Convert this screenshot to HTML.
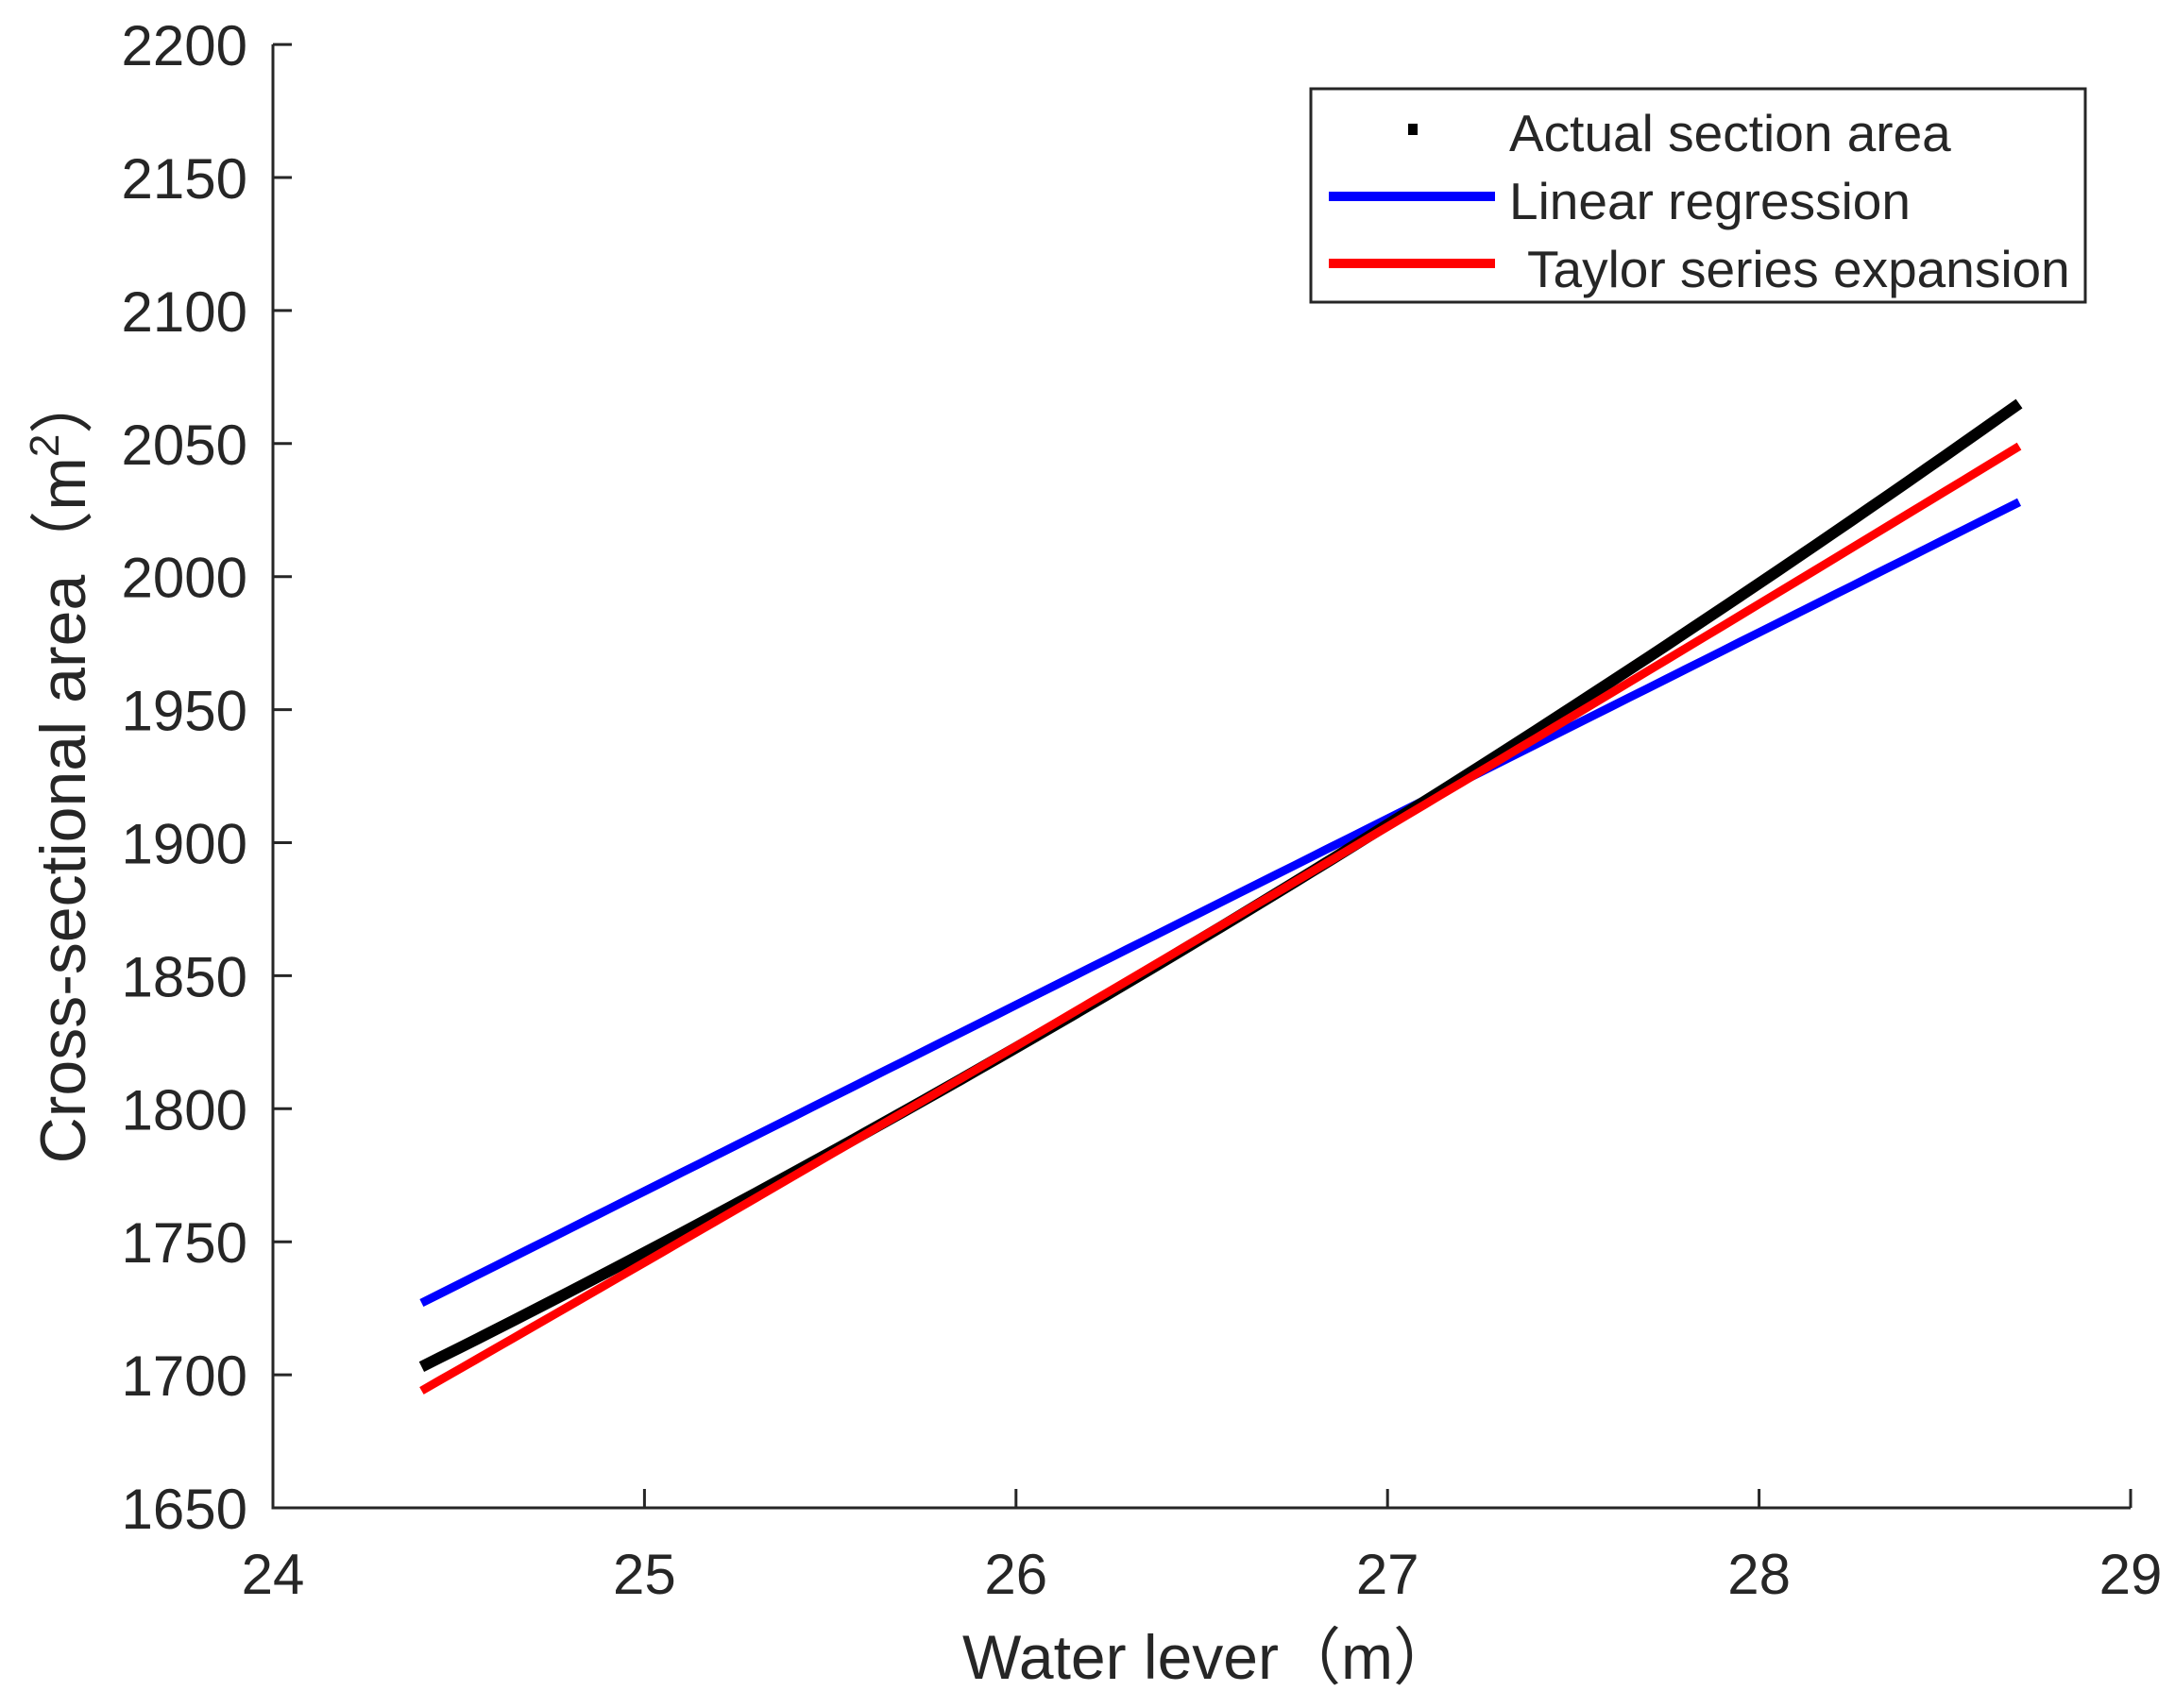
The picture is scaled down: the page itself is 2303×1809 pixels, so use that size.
<!DOCTYPE html>
<html><head><meta charset="utf-8"><style>
body{margin:0;background:#fff}
svg text{font-family:"Liberation Sans","Noto Sans CJK SC",sans-serif;fill:#262626}
</style></head><body>
<svg id="s" width="2303" height="1804" xmlns="http://www.w3.org/2000/svg">
<rect width="2303" height="1804" fill="#fff"/>
<g id="plot"></g>
<path d="M289 47 V1597 H2256" fill="none" stroke="#262626" stroke-width="3"/>
<g id="ticks" stroke="#262626" stroke-width="3"></g>
<g id="lbl" font-size="60"></g>
<text x="1280" y="1778" font-size="66" text-anchor="middle">Water lever（m）</text>
<text transform="translate(90,812) rotate(-90)" font-size="68" text-anchor="middle">Cross-sectional area（m<tspan dy="-28" font-size="44">2</tspan><tspan dy="28">）</tspan></text>
<rect x="1388" y="94" width="820" height="226" fill="#fff" stroke="#262626" stroke-width="3"/>
<rect x="1491" y="131" width="10" height="12" fill="#000"/>
<line x1="1407" y1="208" x2="1583" y2="208" stroke="#0000ff" stroke-width="10"/>
<line x1="1407" y1="279" x2="1583" y2="279" stroke="#ff0000" stroke-width="10"/>
<text x="1598" y="160" font-size="55" fill="#000">Actual section area</text>
<text x="1598" y="232" font-size="55">Linear regression</text>
<text x="1617" y="304" font-size="55">Taylor series expansion</text>
</svg>
<script>
var X=function(v){return 289+(v-24)*393.4},Y=function(v){return 1597-(v-1650)*140.9/50};
var ns="http://www.w3.org/2000/svg",t=document.getElementById('ticks'),l=document.getElementById('lbl'),p=document.getElementById('plot');
function el(g,n,a,tx){var e=document.createElementNS(ns,n);for(var k in a)e.setAttribute(k,a[k]);if(tx)e.textContent=tx;g.appendChild(e);}
for(var v=24;v<=29;v++){var x=X(v);el(t,'line',{x1:x,y1:1597,x2:x,y2:1577});el(l,'text',{x:x,y:1688,'text-anchor':'middle'},v);}
for(var v=1650;v<=2200;v+=50){var y=Y(v);el(t,'line',{x1:289,y1:y,x2:309,y2:y});el(l,'text',{x:262,y:y+22,'text-anchor':'end'},v);}
function quad(p0,p1,p2){
 return function(x){return p0[1]*(x-p1[0])*(x-p2[0])/((p0[0]-p1[0])*(p0[0]-p2[0]))+p1[1]*(x-p0[0])*(x-p2[0])/((p1[0]-p0[0])*(p1[0]-p2[0]))+p2[1]*(x-p0[0])*(x-p1[0])/((p2[0]-p0[0])*(p2[0]-p1[0]));};}
function pts(f){var s=[];for(var x=24.4;x<=28.701;x+=0.05)s.push(X(x).toFixed(1)+','+Y(f(x)).toFixed(1));return s.join(' ');}
var lin=function(x){return 1727+(x-24.4)*(2028-1727)/4.3};
var tay=quad([24.4,1694],[27,1906],[28.7,2049]);
var act=quad([24.4,1703],[26.5,1864],[28.7,2065]);
el(p,'polyline',{points:pts(lin),fill:'none',stroke:'#0000ff','stroke-width':9});
el(p,'polyline',{points:pts(act),fill:'none',stroke:'#000','stroke-width':12});
el(p,'polyline',{points:pts(tay),fill:'none',stroke:'#ff0000','stroke-width':9});
</script>
</body></html>
